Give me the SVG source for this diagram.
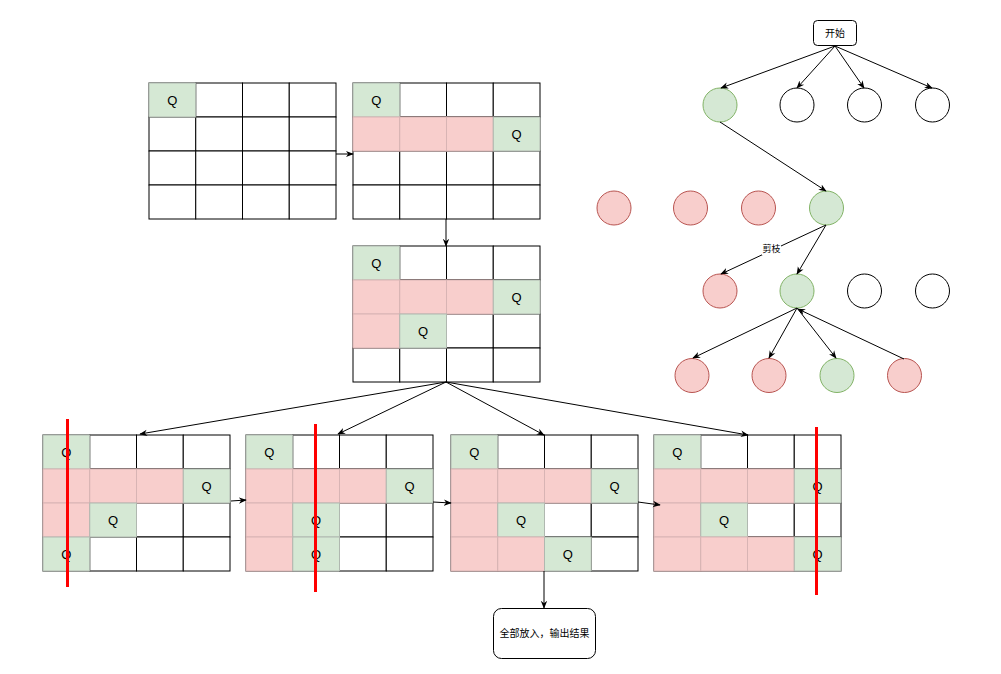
<svg xmlns="http://www.w3.org/2000/svg" width="1001" height="674" viewBox="0 0 1001 674">
<style>
.c{fill:#fff;stroke:#000;stroke-width:1}
.g{fill:#d5e8d4;stroke:#b0b8b0;stroke-width:1}
.r{fill:#f8cecc;stroke:#d8b4b4;stroke-width:1}
.q{font-family:"Liberation Sans",Arial,sans-serif;font-size:13px;fill:#000;text-anchor:middle;dominant-baseline:central}
.t{font-family:"Liberation Sans","Noto Sans CJK SC",sans-serif;fill:#000;text-anchor:middle;dominant-baseline:central}
.e{stroke:#000;stroke-width:1;fill:none;marker-end:url(#a)}
.ng{fill:#d5e8d4;stroke:#82b366;stroke-width:1}
.nr{fill:#f8cecc;stroke:#b85450;stroke-width:1}
.nw{fill:#fff;stroke:#000;stroke-width:1}
.cut{stroke:#ff0000;stroke-width:3}
</style>
<defs>
<marker id="a" viewBox="0 0 10 10" refX="9" refY="5" markerWidth="8" markerHeight="8" markerUnits="userSpaceOnUse" orient="auto">
<path d="M0,1 L10,5 L0,9 L3,5 z" fill="#000"/>
</marker>
<g id="grid">
<rect class="c" x="0" y="0" width="46.75" height="34"/><rect class="c" x="46.75" y="0" width="46.75" height="34"/><rect class="c" x="93.5" y="0" width="46.75" height="34"/><rect class="c" x="140.25" y="0" width="46.75" height="34"/>
<rect class="c" x="0" y="34" width="46.75" height="34"/><rect class="c" x="46.75" y="34" width="46.75" height="34"/><rect class="c" x="93.5" y="34" width="46.75" height="34"/><rect class="c" x="140.25" y="34" width="46.75" height="34"/>
<rect class="c" x="0" y="68" width="46.75" height="34"/><rect class="c" x="46.75" y="68" width="46.75" height="34"/><rect class="c" x="93.5" y="68" width="46.75" height="34"/><rect class="c" x="140.25" y="68" width="46.75" height="34"/>
<rect class="c" x="0" y="102" width="46.75" height="34"/><rect class="c" x="46.75" y="102" width="46.75" height="34"/><rect class="c" x="93.5" y="102" width="46.75" height="34"/><rect class="c" x="140.25" y="102" width="46.75" height="34"/>
</g>
</defs>
<rect width="1001" height="674" fill="#fff"/>

<g id="board1" transform="translate(149,83)">
<use href="#grid"/>
<rect class="g" x="0" y="0" width="46.75" height="34"/><text class="q" x="23.4" y="17">Q</text>
</g>

<g id="board2" transform="translate(353,83)">
<use href="#grid"/>
<rect class="g" x="0" y="0" width="46.75" height="34"/><text class="q" x="23.4" y="17">Q</text>
<rect class="r" x="0" y="34" width="46.75" height="34"/><rect class="r" x="46.75" y="34" width="46.75" height="34"/><rect class="r" x="93.5" y="34" width="46.75" height="34"/>
<rect class="g" x="140.25" y="34" width="46.75" height="34"/><text class="q" x="163.6" y="51">Q</text>
</g>

<g id="board3" transform="translate(353,246)">
<use href="#grid"/>
<rect class="g" x="0" y="0" width="46.75" height="34"/><text class="q" x="23.4" y="17">Q</text>
<rect class="r" x="0" y="34" width="46.75" height="34"/><rect class="r" x="46.75" y="34" width="46.75" height="34"/><rect class="r" x="93.5" y="34" width="46.75" height="34"/>
<rect class="g" x="140.25" y="34" width="46.75" height="34"/><text class="q" x="163.6" y="51">Q</text>
<rect class="r" x="0" y="68" width="46.75" height="34"/>
<rect class="g" x="46.75" y="68" width="46.75" height="34"/><text class="q" x="70.1" y="85">Q</text>
</g>

<g id="boardA" transform="translate(43,435)">
<use href="#grid"/>
<rect class="g" x="0" y="0" width="46.75" height="34"/><text class="q" x="23.4" y="17">Q</text>
<rect class="r" x="0" y="34" width="46.75" height="34"/><rect class="r" x="46.75" y="34" width="46.75" height="34"/><rect class="r" x="93.5" y="34" width="46.75" height="34"/>
<rect class="g" x="140.25" y="34" width="46.75" height="34"/><text class="q" x="163.6" y="51">Q</text>
<rect class="r" x="0" y="68" width="46.75" height="34"/>
<rect class="g" x="46.75" y="68" width="46.75" height="34"/><text class="q" x="70.1" y="85">Q</text>
<rect class="g" x="0" y="102" width="46.75" height="34"/><text class="q" x="23.4" y="119">Q</text>
</g>

<g id="boardB" transform="translate(246,435)">
<use href="#grid"/>
<rect class="g" x="0" y="0" width="46.75" height="34"/><text class="q" x="23.4" y="17">Q</text>
<rect class="r" x="0" y="34" width="46.75" height="34"/><rect class="r" x="46.75" y="34" width="46.75" height="34"/><rect class="r" x="93.5" y="34" width="46.75" height="34"/>
<rect class="g" x="140.25" y="34" width="46.75" height="34"/><text class="q" x="163.6" y="51">Q</text>
<rect class="r" x="0" y="68" width="46.75" height="34"/>
<rect class="g" x="46.75" y="68" width="46.75" height="34"/><text class="q" x="70.1" y="85">Q</text>
<rect class="r" x="0" y="102" width="46.75" height="34"/>
<rect class="g" x="46.75" y="102" width="46.75" height="34"/><text class="q" x="70.1" y="119">Q</text>
</g>

<g id="boardC" transform="translate(451,435)">
<use href="#grid"/>
<rect class="g" x="0" y="0" width="46.75" height="34"/><text class="q" x="23.4" y="17">Q</text>
<rect class="r" x="0" y="34" width="46.75" height="34"/><rect class="r" x="46.75" y="34" width="46.75" height="34"/><rect class="r" x="93.5" y="34" width="46.75" height="34"/>
<rect class="g" x="140.25" y="34" width="46.75" height="34"/><text class="q" x="163.6" y="51">Q</text>
<rect class="r" x="0" y="68" width="46.75" height="34"/>
<rect class="g" x="46.75" y="68" width="46.75" height="34"/><text class="q" x="70.1" y="85">Q</text>
<rect class="r" x="0" y="102" width="46.75" height="34"/><rect class="r" x="46.75" y="102" width="46.75" height="34"/>
<rect class="g" x="93.5" y="102" width="46.75" height="34"/><text class="q" x="116.9" y="119">Q</text>
</g>

<g id="boardD" transform="translate(654,435)">
<use href="#grid"/>
<rect class="g" x="0" y="0" width="46.75" height="34"/><text class="q" x="23.4" y="17">Q</text>
<rect class="r" x="0" y="34" width="46.75" height="34"/><rect class="r" x="46.75" y="34" width="46.75" height="34"/><rect class="r" x="93.5" y="34" width="46.75" height="34"/>
<rect class="g" x="140.25" y="34" width="46.75" height="34"/><text class="q" x="163.6" y="51">Q</text>
<rect class="r" x="0" y="68" width="46.75" height="34"/>
<rect class="g" x="46.75" y="68" width="46.75" height="34"/><text class="q" x="70.1" y="85">Q</text>
<rect class="r" x="0" y="102" width="46.75" height="34"/><rect class="r" x="46.75" y="102" width="46.75" height="34"/><rect class="r" x="93.5" y="102" width="46.75" height="34"/>
<rect class="g" x="140.25" y="102" width="46.75" height="34"/><text class="q" x="163.6" y="119">Q</text>
</g>

<g id="cuts">
<line class="cut" x1="67.5" y1="419" x2="67.5" y2="587"/>
<line class="cut" x1="315.5" y1="424" x2="315.5" y2="592"/>
<line class="cut" x1="816.5" y1="427" x2="816.5" y2="595"/>
</g>

<g id="result">
<rect x="493.5" y="608.5" width="102" height="50" rx="8" fill="#fff" stroke="#000"/>
<text class="t" x="544.5" y="633.5" font-size="10">全部放入，输出结果</text>
</g>

<g id="start">
<rect x="813.5" y="20.5" width="43" height="25" rx="4" fill="#fff" stroke="#000"/>
<text class="t" x="835" y="33" font-size="10">开始</text>
</g>

<g id="nodes">
<circle class="ng" cx="720" cy="105" r="17"/>
<circle class="nw" cx="797" cy="105" r="17"/>
<circle class="nw" cx="864.5" cy="105" r="17"/>
<circle class="nw" cx="932.5" cy="105" r="17"/>
<circle class="nr" cx="614" cy="208" r="17"/>
<circle class="nr" cx="690.5" cy="208" r="17"/>
<circle class="nr" cx="758.5" cy="208" r="17"/>
<circle class="ng" cx="826.5" cy="208" r="17"/>
<circle class="nr" cx="720" cy="291" r="17"/>
<circle class="ng" cx="797" cy="291" r="17"/>
<circle class="nw" cx="864.5" cy="291" r="17"/>
<circle class="nw" cx="932.5" cy="291" r="17"/>
<circle class="nr" cx="692" cy="375.5" r="17"/>
<circle class="nr" cx="769" cy="375.5" r="17"/>
<circle class="ng" cx="837" cy="375.5" r="17"/>
<circle class="nr" cx="904.5" cy="375.5" r="17"/>
</g>

<g id="connectors">
<path class="e" d="M336,154 L353,154"/>
<path class="e" d="M446,219 L446,246"/>
<path class="e" d="M446,382 L140,434"/>
<path class="e" d="M446,382 L338,434"/>
<path class="e" d="M446,382 L544,435"/>
<path class="e" d="M446,382 L748,435"/>
<path class="e" d="M231,501 L246,500"/>
<path class="e" d="M433,502 L451,503"/>
<path class="e" d="M638,502 L660,505"/>
<path class="e" d="M544,571 L544,608"/>
<path class="e" d="M835,46 L721,88"/>
<path class="e" d="M835,46 L797,88"/>
<path class="e" d="M835,46 L864,88"/>
<path class="e" d="M835,46 L932,88"/>
<path class="e" d="M720,122 L826,191"/>
<path class="e" d="M826,225 L721,274"/>
<path class="e" d="M826,225 L797,274"/>
<path class="e" d="M797,308 L693,358"/>
<path class="e" d="M797,308 L769,358"/>
<path class="e" d="M797,308 L836,358"/>
<path class="e" d="M904,359 L798,309"/>
<rect x="762" y="243" width="19" height="12" fill="#fff"/>
<text class="t" x="771.5" y="249" font-size="9">剪枝</text>
</g>
</svg>
